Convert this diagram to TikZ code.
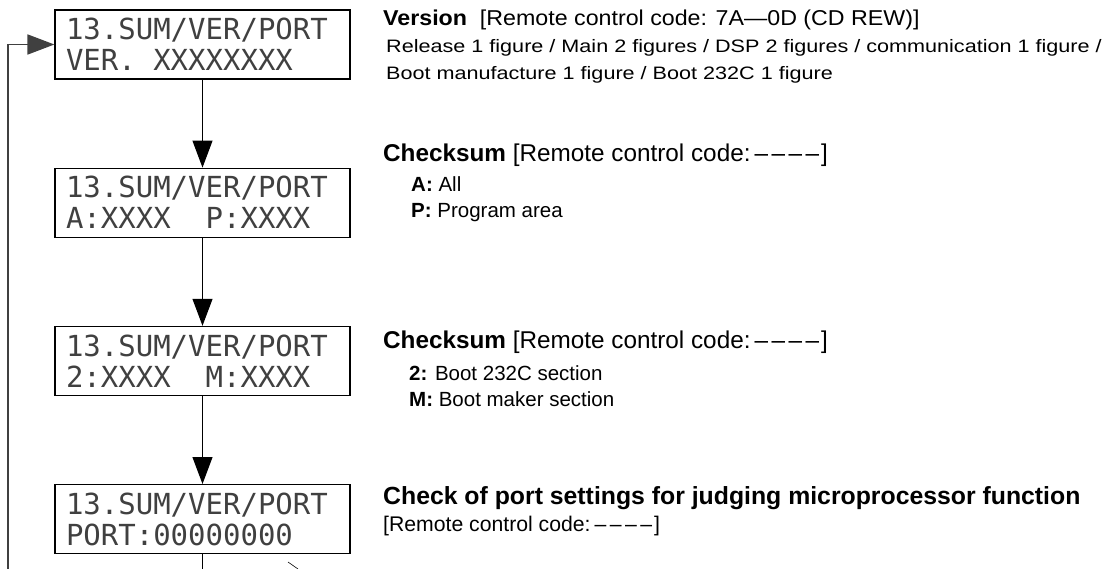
\documentclass[tikz,border=0pt]{standalone}
\usepackage{fontspec}
\setmainfont{Liberation Sans}
\newfontfamily\lcdfont{DejaVu Sans Mono}
\newfontfamily\wideheadfont[FakeStretch=1.08]{Liberation Sans}
\newfontfamily\wideinfofont[FakeStretch=1.2]{Liberation Sans}
\usetikzlibrary{arrows.meta,positioning}
\definecolor{LcdInk}{HTML}{404040}
\newcommand{\rcdash}{\kern4pt–\kern3.5pt–\kern3.5pt–\kern3.5pt–\kern2pt}
\newcommand{\lcdgap}{\phantom{X}}

\begin{document}
\begin{tikzpicture}[
  x=1pt, y=-1pt,
  node distance=88pt,
  lcd/.style={draw,line width=1.2pt,minimum width=295pt,minimum height=69pt,
    inner xsep=11pt,inner ysep=0pt,text width=273pt,align=left,
    text=LcdInk,font=\fontsize{29}{31}\lcdfont},
  note/.style={anchor=base west,inner sep=0pt},
  head/.style={note,font=\fontsize{24.3}{28}\selectfont},
  info/.style={note,font=\fontsize{20.5}{26}\selectfont},
  arrow/.style={-{Triangle[length=27pt,width=20pt]},line width=1.1pt}
]
  \useasboundingbox (0,0) rectangle (1116,569);

  % display screens
  \node[lcd] (ver) at (202.5,44.5) {13.SUM/VER/PORT\\VER.\lcdgap XXXXXXXX};
  \node[lcd, below=of ver] (sumap) {13.SUM/VER/PORT\\A:XXXX\lcdgap\lcdgap P:XXXX};
  \node[lcd, below=of sumap] (sum2m) {13.SUM/VER/PORT\\2:XXXX\lcdgap\lcdgap M:XXXX};
  \node[lcd, below=of sum2m] (port) {13.SUM/VER/PORT\\PORT:00000000};

  % notes
  \node[note,font=\fontsize{21.5}{26}\wideheadfont] (vertitle) at (383,26)
    {\textbf{Version}\ \ [Remote control code: 7A—0D (CD REW)]};
  \node[note,font=\fontsize{18}{26}\wideinfofont] (verinfoA) at (386,53)
    {Release 1 figure / Main 2 figures / DSP 2 figures / communication 1 figure /};
  \node[note,font=\fontsize{18}{26}\wideinfofont] (verinfoB) at (386,80)
    {Boot manufacture 1 figure / Boot 232C 1 figure};

  \node[head] (aptitle) at (383,162)
    {\textbf{Checksum} [Remote control code:\rcdash]};
  \node[info] (apinfoA) at (411,192) {\textbf{A:} All};
  \node[info] (apinfoB) at (411,218) {\textbf{P:} Program area};

  \node[head] (mtitle) at (383,348)
    {\textbf{Checksum} [Remote control code:\rcdash]};
  \node[info] (minfoA) at (409,380) {\textbf{2:} Boot 232C section};
  \node[info] (minfoB) at (409,406) {\textbf{M:} Boot maker section};

  \node[note,font=\fontsize{24.8}{28}\bfseries] (porttitle) at (383,504)
    {Check of port settings for judging microprocessor function};
  \node[note,font=\fontsize{21.2}{28}\selectfont] (portcode) at (383,531)
    {[Remote control code:\rcdash]};

  % connectors
  \coordinate (loopstart) at (8,569);
  \coordinate (portend) at (202.5,569);
  \coordinate (stubA) at (288,562);
  \coordinate (stubB) at (298,569);
  \draw[arrow] (ver) -- (sumap);
  \draw[arrow] (sumap) -- (sum2m);
  \draw[arrow] (sum2m) -- (port);
  \draw[line width=1.1pt] (port) -- (portend);
  \draw[arrow,black!75,line width=1.8pt] (loopstart) |- (ver.west);
  \draw[line width=0.6pt] (stubA) -- (stubB);
\end{tikzpicture}
\end{document}
